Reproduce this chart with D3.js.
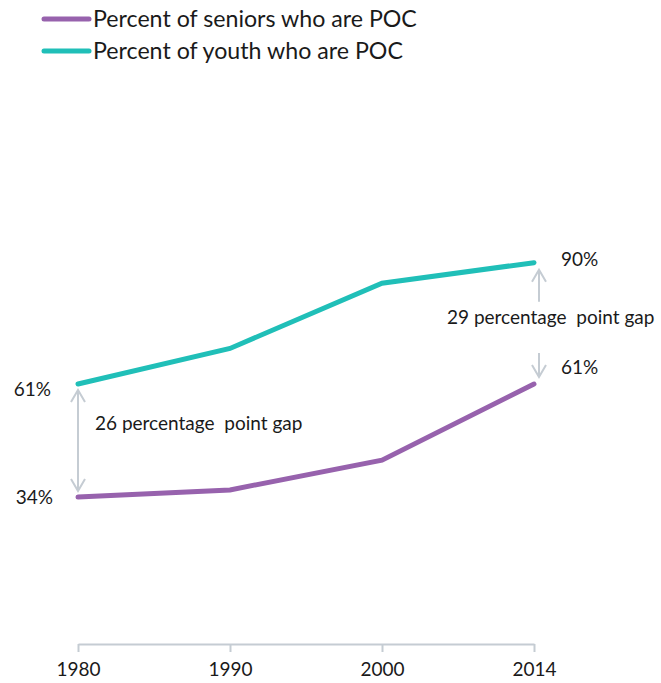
<!DOCTYPE html>
<html>
<head>
<meta charset="utf-8">
<script src="https://cdn.jsdelivr.net/npm/d3@7"></script>
<style>
  body { margin: 0; background: #fff; }
  text { font-family: Lato, "Open Sans", sans-serif; fill: #1a1a1a; }
</style>
</head>
<body>
<svg id="chart" width="661" height="683"></svg>
<script>
// data
const years = ["1980", "1990", "2000", "2014"];
const seniors = [34, 35.7, 42.8, 61];
const youth = [61, 69.5, 85.1, 90];
const seriesNames = ["Percent of seniors who are POC", "Percent of youth who are POC"];
const gapLabels = ["26 percentage  point gap", "29 percentage  point gap"];

const purple = "#9762ad";
const teal = "#20bfb8";
const grey = "#c5ccd3";
const labelSize = "19px";

const svg = d3.select("#chart");

const x = d3.scalePoint().domain(years).range([78, 534]);
const y = d3.scaleLinear().domain([0, 100]).range([639.3, 220.8]);

// legend
const legend = svg.append("g");
[purple, teal].forEach((c, i) => {
    const ly = 19 + i * 32;
    legend.append("line")
        .attr("x1", 44).attr("x2", 89)
        .attr("y1", ly).attr("y2", ly)
        .attr("stroke", c).attr("stroke-width", 5)
        .attr("stroke-linecap", "round");
    legend.append("text")
        .attr("x", 93).attr("y", ly)
        .attr("dy", "0.35em")
        .style("font-size", "23.2px")
        .text(seriesNames[i]);
});

// x axis
const axis = svg.append("g")
    .attr("transform", "translate(0,644)")
    .call(d3.axisBottom(x).tickSize(8).tickSizeOuter(0).tickPadding(11));
axis.select(".domain").attr("stroke", grey).attr("stroke-width", 2);
axis.selectAll(".tick line").attr("stroke", grey).attr("stroke-width", 2);
axis.selectAll(".tick text")
    .style("font-size", labelSize)
    .style("font-family", "Lato, sans-serif")
    .attr("fill", "#1a1a1a");

// lines
const line = d3.line()
    .x((d, i) => x(years[i]))
    .y(d => y(d));

[[seniors, purple], [youth, teal]].forEach(([vals, c]) => {
    svg.append("path")
        .datum(vals)
        .attr("d", line)
        .attr("fill", "none")
        .attr("stroke", c)
        .attr("stroke-width", 5)
        .attr("stroke-linecap", "round");
});

// value labels
const fmt = v => Math.round(v) + "%";
svg.append("text").attr("x", 51).attr("y", y(youth[0]) + 5).attr("dy", "0.35em")
    .attr("text-anchor", "end").style("font-size", labelSize).text(fmt(youth[0]));
svg.append("text").attr("x", 53).attr("y", y(seniors[0])).attr("dy", "0.35em")
    .attr("text-anchor", "end").style("font-size", labelSize).text(fmt(seniors[0]));
svg.append("text").attr("x", 561).attr("y", y(youth[3]) - 3).attr("dy", "0.35em")
    .style("font-size", labelSize).text(fmt(youth[3]));
svg.append("text").attr("x", 561).attr("y", y(seniors[3]) - 17).attr("dy", "0.35em")
    .style("font-size", labelSize).text(fmt(seniors[3]));

// gap arrows
function arrowHead(xp, yp, dir) {
    svg.append("path")
        .attr("d", `M${xp - 7},${yp - dir * 12}L${xp},${yp}L${xp + 7},${yp - dir * 12}`)
        .attr("fill", "none").attr("stroke", grey).attr("stroke-width", 2);
}
function vline(xp, y1, y2) {
    svg.append("line").attr("x1", xp).attr("x2", xp).attr("y1", y1).attr("y2", y2)
        .attr("stroke", grey).attr("stroke-width", 2);
}

const lx = x(years[0]);
vline(lx, y(youth[0]) + 6, y(seniors[0]) - 6);
arrowHead(lx, y(youth[0]) + 6, -1);
arrowHead(lx, y(seniors[0]) - 6, 1);

const rx = x(years[3]) + 5;
vline(rx, y(youth[3]) + 7, y(youth[3]) + 39);
arrowHead(rx, y(youth[3]) + 7, -1);
vline(rx, y(seniors[3]) - 31, y(seniors[3]) - 7);
arrowHead(rx, y(seniors[3]) - 7, 1);

svg.append("text").attr("x", 95).attr("y", 423).attr("dy", "0.35em")
    .style("font-size", labelSize).style("white-space", "pre").text(gapLabels[0]);
svg.append("text").attr("x", 447).attr("y", 317).attr("dy", "0.35em")
    .style("font-size", labelSize).style("white-space", "pre").text(gapLabels[1]);
</script>
</body>
</html>
